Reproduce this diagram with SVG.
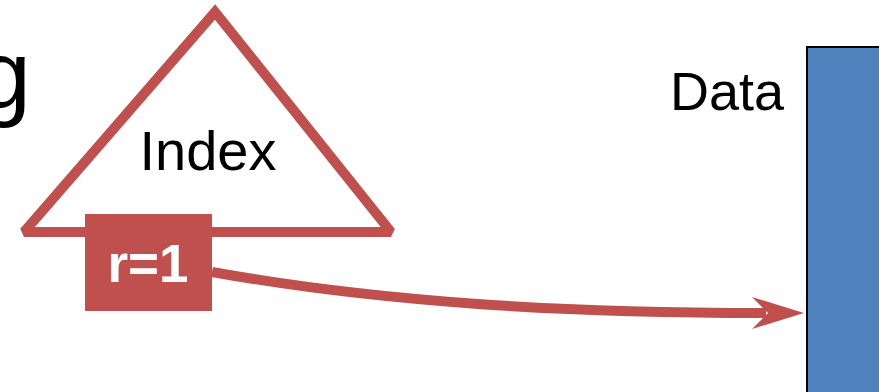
<svg xmlns="http://www.w3.org/2000/svg" width="879" height="392" viewBox="0 0 879 392">
<style>
.lbl{font-family:"Liberation Sans",Arial,sans-serif;fill:#000}
.red{stroke:#C0504D;fill:none}
</style>
<defs>
<marker id="ah" markerUnits="userSpaceOnUse" markerWidth="60" markerHeight="40" refX="14" refY="16" orient="auto" viewBox="0 0 60 40">
<path d="M0,0 L52,16 L0,32 L16,16 Z" fill="#C0504D"/>
</marker>
</defs>
<rect width="879" height="392" fill="#fff"/>
<text class="lbl" x="31" y="108" font-size="96" text-anchor="end">g</text>
<g id="index">
<path class="red" d="M24,232 L215,12 L391,232 Z" stroke-width="10" stroke-linejoin="miter" stroke-miterlimit="2"/>
<text class="lbl" x="208" y="170" font-size="56" text-anchor="middle">Index</text>
</g>
<g id="r1">
<rect x="85" y="214" width="127" height="97" fill="#C0504D"/>
<text x="148" y="282" font-family="'Liberation Sans',Arial,sans-serif" font-weight="bold" font-size="53" fill="#fff" text-anchor="middle">r=1</text>
</g>
<g id="data">
<rect x="807" y="47" width="90" height="360" fill="#4F81BD" stroke="#000" stroke-width="2"/>
<text class="lbl" x="727" y="110" font-size="54" text-anchor="middle">Data</text>
</g>
<g id="connectors">
<path class="red" d="M212,272 C380,302 560,313 766,313" stroke-width="10" marker-end="url(#ah)"/>
</g>
</svg>
